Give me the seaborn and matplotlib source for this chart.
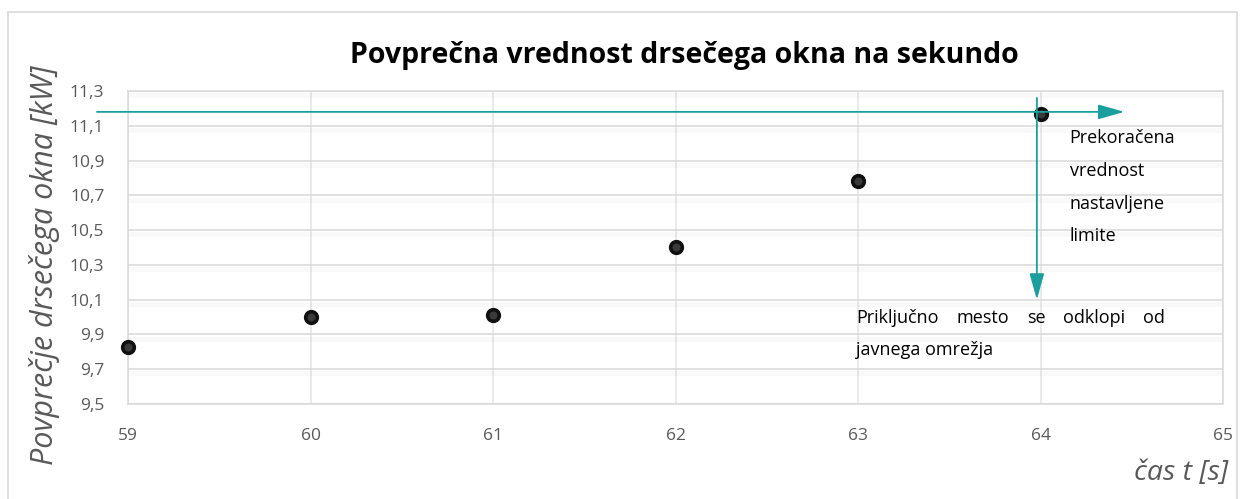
import matplotlib
matplotlib.use("Agg")
import matplotlib.pyplot as plt
import matplotlib.patheffects as pe
from matplotlib.patches import Rectangle
import seaborn as sns
import pandas as pd

# Sliding-window average per second
time_s = [59, 60, 61, 62, 63, 64]
avg_kw = [9.83, 10.0, 10.01, 10.40, 10.78, 11.17]
limit_kw = 11.18

y_ticks = [9.5, 9.7, 9.9, 10.1, 10.3, 10.5, 10.7, 10.9, 11.1, 11.3]
x_ticks = [59, 60, 61, 62, 63, 64, 65]

title = "Povprečna vrednost drsečega okna na sekundo"
y_label = "Povprečje drsečega okna [kW]"
x_label = "čas t [s]"
note_limit_lines = ["Prekoračena", "vrednost", "nastavljene", "limite"]
note_disconnect_words = ["Priključno", "mesto", "se", "odklopi", "od"]
note_disconnect_2 = "javnega omrežja"

sns.set_style("white")
plt.rcParams["font.family"] = ["Open Sans", "DejaVu Sans"]

grid_c = "#d9d9d9"
text_c = "#595959"
teal = "#1a9e9e"
note_fs = 13

fig = plt.figure(figsize=(12.4, 4.99), dpi=100)
ax = fig.add_axes([128 / 1240, 1 - 404 / 499, (1223 - 128) / 1240, (404 - 91) / 499])

df = pd.DataFrame({"t": time_s, "p": avg_kw})
sns.scatterplot(data=df, x="t", y="p", ax=ax, s=70, color="#3a3a3a",
                edgecolor="#111111", linewidth=2.6, zorder=5, clip_on=False)

ax.set_xlim(59, 65)
ax.set_ylim(9.5, 11.3)
ax.set_xticks(x_ticks)
ax.set_yticks(y_ticks)
ax.set_xticklabels([str(v) for v in x_ticks])
ax.set_yticklabels([f"{v:.1f}".replace(".", ",") for v in y_ticks])
ax.tick_params(axis="both", length=0, labelsize=12.5, labelcolor=text_c)
ax.tick_params(axis="x", pad=17)
ax.tick_params(axis="y", pad=17)

ax.grid(True, axis="y", color=grid_c, linewidth=1.1)
ax.grid(True, axis="x", color="#e4e4e4", linewidth=1.1)
for gl in ax.get_ygridlines():
    gl.set_path_effects([pe.SimpleLineShadow(offset=(0, -3), shadow_color="#000000",
                                             alpha=0.025, linewidth=3.5),
                         pe.Normal()])
ax.set_axisbelow(True)
for sp in ax.spines.values():
    sp.set_color(grid_c)
    sp.set_linewidth(1.1)

ax.set_xlabel("")
ax.set_ylabel("")

fig.text(684 / 1240, 1 - 55 / 499, title, ha="center", va="center",
         fontsize=20.5, fontweight="bold", color="black")
fig.text(45 / 1240, 1 - 265 / 499, y_label, rotation=90, ha="center", va="center",
         fontsize=22, style="italic", color=text_c)
fig.text(1228 / 1240, 1 - 473 / 499, x_label, ha="right", va="center",
         fontsize=20.5, style="italic", color=text_c)

# Limit line and disconnection arrow
ax.annotate("", xy=(64.46, limit_kw), xytext=(58.83, limit_kw),
            arrowprops=dict(arrowstyle="-|>,head_length=1.6,head_width=0.45",
                            color=teal, lw=1.3, shrinkA=0, shrinkB=0),
            annotation_clip=False, zorder=6)
ax.annotate("", xy=(63.98, 10.10), xytext=(63.98, 11.26),
            arrowprops=dict(arrowstyle="-|>,head_length=1.6,head_width=0.45",
                            color=teal, lw=1.3, shrinkA=0, shrinkB=0),
            annotation_clip=False, zorder=6)

# Note beside the limit crossing, one line at a time
line_step = 0.1885
for i, line in enumerate(note_limit_lines):
    ax.text(64.16, 11.03 - i * line_step, line, ha="left", va="center",
            fontsize=note_fs, color="black")

# Justified first line of the disconnection note
x0, x1 = 59 + (858 - 128) / 183, 59 + (1168 - 128) / 183
fig.canvas.draw()
renderer = fig.canvas.get_renderer()
inv = ax.transData.inverted()
widths = []
word_texts = []
for w in note_disconnect_words:
    t = ax.text(0, 0, w, fontsize=note_fs, color="black", ha="left", va="center")
    bb = t.get_window_extent(renderer)
    p0 = inv.transform((bb.x0, bb.y0))
    p1 = inv.transform((bb.x1, bb.y0))
    widths.append(p1[0] - p0[0])
    word_texts.append(t)
gap = (x1 - x0 - sum(widths)) / (len(widths) - 1)
xpos = x0
for t, wd in zip(word_texts, widths):
    t.set_position((xpos, 9.995))
    xpos += wd + gap
ax.text(x0, 9.81, note_disconnect_2, ha="left", va="center", fontsize=note_fs, color="black")

fig.add_artist(Rectangle((8 / 1240, -0.01), 1229 / 1240, 1 - 12 / 499 + 0.01,
                         transform=fig.transFigure, fill=False,
                         edgecolor="#d9d9d9", linewidth=1.2))

fig.savefig("out.png", dpi=100, facecolor="white")
